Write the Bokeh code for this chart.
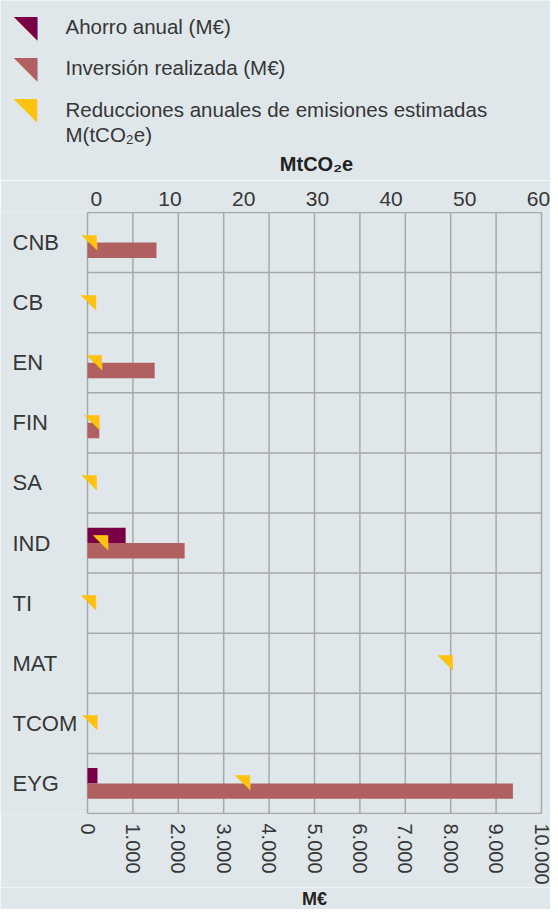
from bokeh.plotting import figure
from bokeh.layouts import column
from bokeh.models import Range1d, LinearAxis, FixedTicker, ColumnDataSource, LabelSet
from bokeh.transform import dodge
from bokeh.core.properties import value
from bokeh.embed import file_html
from bokeh.resources import INLINE

# ---- data ----
categories = ["CNB", "CB", "EN", "FIN", "SA", "IND", "TI", "MAT", "TCOM", "EYG"]
ahorro = [0, 0, 0, 0, 0, 840, 0, 0, 0, 220]                  # M€
inversion = [1520, 0, 1480, 260, 0, 2140, 0, 0, 0, 9370]     # M€
emisiones = [0.1, 0.0, 0.8, 0.5, 0.1, 1.6, 0.0, 48.4, 0.2, 20.9]  # MtCO2e

x_ticks = [0, 1000, 2000, 3000, 4000, 5000, 6000, 7000, 8000, 9000, 10000]
x_tick_labels = ["0", "1.000", "2.000", "3.000", "4.000", "5.000", "6.000",
                 "7.000", "8.000", "9.000", "10.000"]
co2_ticks = [0, 10, 20, 30, 40, 50, 60]
co2_tick_labels = ["0", "10", "20", "30", "40", "50", "60"]

legend_labels = ["Ahorro anual (M€)", "Inversión realizada (M€)",
                 "Reducciones anuales de emisiones estimadas", "M(tCO₂e)"]
x_title = "M€"
top_title = "MtCO₂e"

# ---- style ----
BG = "#E0E7EA"
GRID = "#A6A9AC"
TXT = "#363636"
TITLE_TXT = "#222222"
PURPLE = "#7A0045"
PINK = "#B06060"
YELLOW = "#FFC20E"
FONT = "Liberation Sans"

# ---- layout (pixels) ----
W, H = 550, 909
LEG_H, FOOT_H = 180, 22
MAIN_H = H - LEG_H - FOOT_H
FRAME_R = W
ZERO_PX, FULL_PX = 87, 541    # where 0 and 10.000 M€ fall
CO2_ZERO_PX, CO2_60_PX = 95.8, 538
TOP_PX, BOT_PX = 212, 816     # top / bottom of the category rows
PAD = 1


def blank(height):
    f = figure(width=W, height=height, title=None,
               x_range=Range1d(0, W), y_range=Range1d(height, 0),
               x_axis_location=None, y_axis_location=None,
               toolbar_location=None, output_backend="svg", min_border=0,
               background_fill_color=BG, border_fill_color=BG,
               outline_line_color=None)
    f.grid.visible = False
    return f


# ================= legend block + top title =================
leg = blank(LEG_H)
icon_src = ColumnDataSource(dict(x=[37, 37, 37], y=[28, 69.5, 110.5],
                                 t=["◥"] * 3, c=[PURPLE, PINK, YELLOW]))
leg.text(x="x", y="y", text="t", text_color="c", source=icon_src,
         text_font=value("DejaVu Sans"), text_font_size="31px",
         text_align="right", text_baseline="middle", y_offset=-3)
lab_src = ColumnDataSource(dict(x=[65] * 4, y=[25.5, 67, 108.5, 134],
                                t=legend_labels))
leg.text(x="x", y="y", text="t", source=lab_src,
         text_font=value(FONT), text_font_size="20.5px", text_color=TXT,
         text_align="left", text_baseline="middle")
leg.text(x=[316], y=[163], text=[top_title], text_font=value(FONT),
         text_font_style="bold", text_font_size="20px", text_color=TITLE_TXT,
         text_align="center", text_baseline="middle")

# ================= main chart =================
n = len(categories)
ypos = [n - 0.5 - i for i in range(n)]
src = ColumnDataSource(dict(cat=categories, y=ypos, ahorro=ahorro,
                            inversion=inversion, emisiones=emisiones,
                            tri=["◥"] * n))

px_per = (FULL_PX - ZERO_PX) / x_ticks[-1]
x0 = (0 - ZERO_PX) / px_per
x1 = (FRAME_R - ZERO_PX) / px_per
co2_per = (CO2_60_PX - CO2_ZERO_PX) / co2_ticks[-1]
c0 = (0 - CO2_ZERO_PX) / co2_per
c1 = (FRAME_R - CO2_ZERO_PX) / co2_per
row_px = (BOT_PX - TOP_PX) / n

p = figure(width=W, height=MAIN_H, title=None,
           x_range=Range1d(x0, x1),
           y_range=Range1d(-PAD / row_px, n + PAD / row_px),
           y_axis_location=None,
           output_backend="svg", toolbar_location=None,
           min_border_left=0, min_border_right=0,
           min_border_top=TOP_PX - PAD - LEG_H,
           min_border_bottom=(H - FOOT_H) - BOT_PX - PAD,
           background_fill_color=BG, border_fill_color=BG,
           outline_line_color=None)
p.grid.visible = False

# grid lines: vertical every 1000 M€, horizontal between categories
bounds = list(range(0, n + 1))
p.segment(x0=x_ticks, x1=x_ticks, y0=[0] * len(x_ticks), y1=[n] * len(x_ticks),
          line_color=GRID, line_width=1.5)
p.segment(x0=[0] * len(bounds), x1=[x_ticks[-1]] * len(bounds),
          y0=bounds, y1=bounds, line_color=GRID, line_width=1.5)

# bottom axis
xa = p.xaxis[0]
xa.ticker = FixedTicker(ticks=x_ticks)
xa.major_label_overrides = dict(zip(x_ticks, x_tick_labels))
xa.major_label_orientation = "vertical"
xa.major_tick_line_color = None
xa.minor_tick_line_color = None
xa.major_tick_out = 0
xa.major_tick_in = 0
xa.axis_line_color = None
xa.major_label_standoff = 9
xa.major_label_text_font = FONT
xa.major_label_text_font_size = "20px"
xa.major_label_text_color = TXT

# top axis (MtCO2e)
p.extra_x_ranges = {"co2": Range1d(c0, c1)}
ta = LinearAxis(x_range_name="co2", ticker=FixedTicker(ticks=co2_ticks),
                major_label_overrides=dict(zip(co2_ticks, co2_tick_labels)),
                major_tick_line_color=None, minor_tick_line_color=None,
                major_tick_out=0, major_tick_in=0, axis_line_color=None,
                major_label_standoff=6,
                major_label_text_font=FONT, major_label_text_font_size="21px",
                major_label_text_color=TXT)
p.add_layout(ta, "above")

# bars
p.hbar(y=dodge("y", 0.128), left=0, right="ahorro", height=0.257,
       source=src, fill_color=PURPLE, line_color=None)
p.hbar(y=dodge("y", -0.128), left=0, right="inversion", height=0.257,
       source=src, fill_color=PINK, line_color=None)

# emission markers
p.text(x="emisiones", y="y", text="tri", source=src, x_range_name="co2",
       text_font=value("DejaVu Sans"), text_font_size="20px",
       text_color=YELLOW, text_align="right", text_baseline="middle",
       y_offset=-2)

# category labels, left aligned
p.add_layout(LabelSet(x=12, y="y", x_units="screen", y_units="data",
                      text="cat", source=src, text_align="left",
                      text_baseline="middle", text_font=value(FONT),
                      text_font_size="22px", text_color=TXT))

# ================= bottom title =================
foot = blank(FOOT_H)
foot.text(x=[314], y=[11], text=[x_title], text_font=value(FONT),
          text_font_style="bold", text_font_size="18px", text_color=TITLE_TXT,
          text_align="center", text_baseline="middle")

layout = column(leg, p, foot, spacing=0)
open("out.html", "w").write(file_html(layout, INLINE))
